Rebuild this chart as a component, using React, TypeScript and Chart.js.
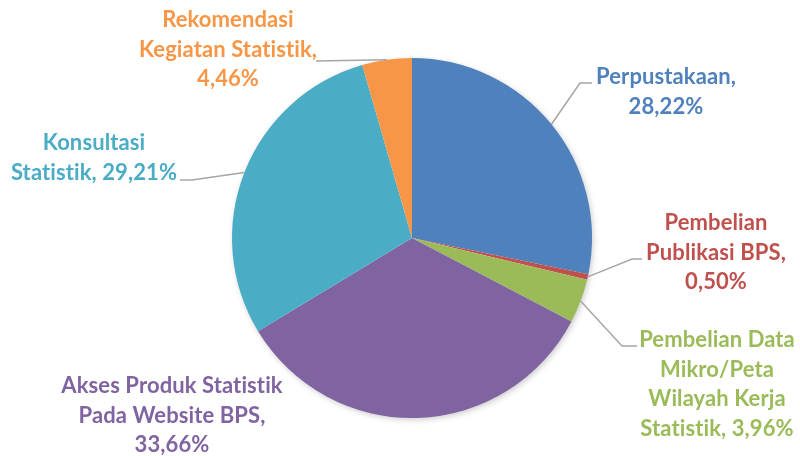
import { useEffect, useRef } from "react";
import { Chart, registerables } from "chart.js";

Chart.register(...registerables);

// ---- data ----
const categories = [
  "Perpustakaan",
  "Pembelian Publikasi BPS",
  "Pembelian Data Mikro/Peta Wilayah Kerja Statistik",
  "Akses Produk Statistik Pada Website BPS",
  "Konsultasi Statistik",
  "Rekomendasi Kegiatan Statistik",
];
const values = [28.22, 0.5, 3.96, 33.66, 29.21, 4.46];
const colors = ["#4F81BD", "#C0504D", "#9BBB59", "#8064A2", "#4BACC6", "#F79646"];

// label text wrapping (name lines), value appended inline or on its own line
const nameLines = [
  ["Perpustakaan"],
  ["Pembelian", "Publikasi BPS"],
  ["Pembelian Data", "Mikro/Peta", "Wilayah Kerja", "Statistik"],
  ["Akses Produk Statistik", "Pada Website BPS"],
  ["Konsultasi", "Statistik"],
  ["Rekomendasi", "Kegiatan Statistik"],
];
const valueInline = [false, false, true, false, true, false];

// ---- layout for labels (not data) ----
const labelLayout = [
  { cx: 666, y0: 77, frac: 0.5, path: [[580, 83], [592, 83]] },
  { cx: 716, y0: 223, frac: 0.5, path: [[632, 259], [642, 259]] },
  { cx: 717, y0: 340, frac: 0.5, path: [[622, 346], [637, 346]] },
  { cx: 172, y0: 386, frac: 0.5, path: null },
  { cx: 94, y0: 143, frac: 0.5, path: [[192, 180], [180, 180]] },
  { cx: 228, y0: 20, frac: 0.5, path: [[316, 61]] },
];
const LINE_H = 29.5;
const FONT = "bold 22px Lato, 'Open Sans', sans-serif";

function fmt(v: number) {
  return v.toFixed(2).replace(".", ",") + "%";
}

function buildLines(i: number): string[] {
  const names = nameLines[i].slice();
  const last = names.length - 1;
  if (valueInline[i]) {
    names[last] = names[last] + ", " + fmt(values[i]);
    return names;
  }
  names[last] = names[last] + ",";
  return [...names, fmt(values[i])];
}

const shadowPlugin = {
  id: "pieShadow",
  beforeDatasetsDraw(chart: any) {
    const meta = chart.getDatasetMeta(0);
    const arc = meta.data[0];
    if (!arc) return;
    const { x, y, outerRadius } = arc.getProps(["x", "y", "outerRadius"], true);
    const ctx = chart.ctx;
    ctx.save();
    ctx.shadowColor = "rgba(0,0,0,0.22)";
    ctx.shadowBlur = 6;
    ctx.shadowOffsetX = 1.5;
    ctx.shadowOffsetY = 2;
    ctx.fillStyle = "#ffffff";
    ctx.beginPath();
    ctx.arc(x, y, outerRadius - 0.5, 0, Math.PI * 2);
    ctx.fill();
    ctx.restore();
  },
};

const labelPlugin = {
  id: "pieLabels",
  afterDatasetsDraw(chart: any) {
    const ctx = chart.ctx;
    const meta = chart.getDatasetMeta(0);
    ctx.save();
    meta.data.forEach((arc: any, i: number) => {
      const { x, y, startAngle, endAngle, outerRadius } = arc.getProps(
        ["x", "y", "startAngle", "endAngle", "outerRadius"],
        true
      );
      const lay = labelLayout[i];
      if (lay.path) {
        const a = startAngle + (endAngle - startAngle) * lay.frac;
        const px = x + Math.cos(a) * outerRadius;
        const py = y + Math.sin(a) * outerRadius;
        ctx.strokeStyle = "#A6A6A6";
        ctx.lineWidth = 1.5;
        ctx.beginPath();
        ctx.moveTo(px, py);
        lay.path.forEach((p: number[]) => ctx.lineTo(p[0], p[1]));
        ctx.stroke();
      }
      ctx.fillStyle = colors[i];
      ctx.font = FONT;
      (ctx as any).letterSpacing = "0.1px";
      (ctx as any).fontVariantCaps = "normal";
      ctx.textAlign = "center";
      ctx.textBaseline = "middle";
      buildLines(i).forEach((line, k) => {
        ctx.fillText(line, lay.cx, lay.y0 + k * LINE_H);
      });
    });
    ctx.restore();
  },
};

export default function App() {
  const ref = useRef<HTMLCanvasElement | null>(null);
  useEffect(() => {
    if (!ref.current) return;
    const chart = new Chart(ref.current, {
      type: "pie",
      data: {
        labels: categories,
        datasets: [
          {
            data: values,
            backgroundColor: colors,
            borderWidth: 0,
          },
        ],
      },
      options: {
        animation: false,
        responsive: true,
        maintainAspectRatio: false,
        layout: { padding: { left: 232, right: 208, top: 58, bottom: 38 } },
        plugins: {
          legend: { display: false },
          tooltip: { enabled: false },
        },
      },
      plugins: [shadowPlugin, labelPlugin],
    });
    return () => chart.destroy();
  }, []);
  return (
    <div style={{ position: "fixed", left: 0, top: 0, width: 800, height: 456, background: "#fff" }}>
      <canvas ref={ref} />
    </div>
  );
}
